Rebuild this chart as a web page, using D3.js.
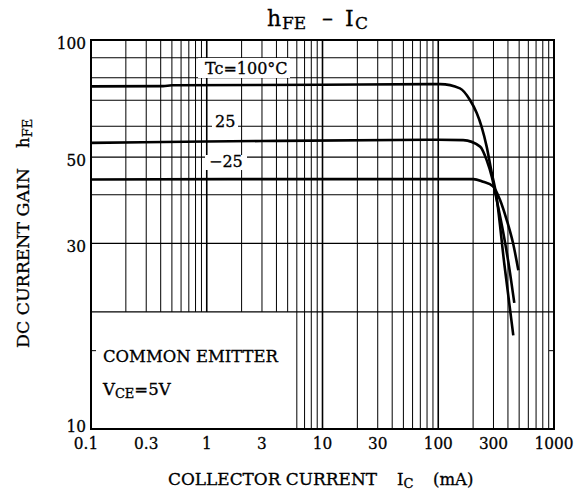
<!DOCTYPE html>
<html><head><meta charset="utf-8">
<script src="https://cdn.jsdelivr.net/npm/d3@7"></script>
<style>
body{margin:0;background:#fff}
svg text{font-family:"DejaVu Serif",serif;fill:#000;stroke:#000;stroke-width:0.3px}
svg text.num{font-family:"DejaVu Serif Condensed","DejaVu Serif",serif;font-stretch:condensed}
</style>
</head><body>
<svg id="c" width="584" height="492"></svg>
<script>
// ---- data ----
const xTickLabels = [0.1, 0.3, 1, 3, 10, 30, 100, 300, 1000];
const yTickLabels = [10, 30, 50, 100];
const seriesNames = ["Tc=100°C", "25", "−25"];

const ic100  = [0.1, 0.42, 0.5, 10, 104, 154, 188, 215, 237, 262, 290, 315, 372, 445];
const hfe100 = [76.0, 76.1, 76.5, 76.7, 77.0, 75.1, 70.1, 64.9, 59.8, 53.2, 45.5, 40.4, 26.6, 17.4];

const ic25  = [0.1, 0.28, 3, 100, 164, 230, 262, 290, 320, 365, 417, 454];
const hfe25 = [54.4, 54.6, 55.0, 55.4, 55.3, 53.2, 49.1, 44.5, 38.8, 31.9, 25.2, 21.1];

const icM25  = [0.1, 10, 100, 201, 244, 297, 342, 390, 442, 492];
const hfeM25 = [43.8, 43.9, 43.9, 43.9, 43.2, 42.1, 38.8, 34.5, 30.1, 25.6];

// ---- layout ----
const L = 91, R = 554, T = 40, B = 429;
const svg = d3.select("#c");
const x = d3.scaleLog().domain([0.1, 1000]).range([L, R]);
const y = d3.scaleLog().domain([10, 100]).range([B, T]);

// grid
const g = svg.append("g");
x.ticks().filter(v => v > 0.1 * 1.001 && v < 999).forEach(v => {
  const major = Math.abs(Math.log10(v) - Math.round(Math.log10(v))) < 1e-6;
  g.append("line")
    .attr("x1", x(v)).attr("x2", x(v))
    .attr("y1", T).attr("y2", v < 5.9 ? y(20) : B)
    .attr("stroke", "#000").attr("stroke-width", major ? 1.6 : 1);
});
y.ticks().filter(v => v > 10.5 && v < 99).forEach(v => {
  g.append("line")
    .attr("x1", L).attr("x2", R)
    .attr("y1", y(v)).attr("y2", y(v))
    .attr("stroke", "#000").attr("stroke-width", 1.1);
});
// small ticks on side edges
[L, R].forEach((xx, i) => {
  g.append("line").attr("x1", xx).attr("x2", xx + (i ? -5 : 5))
    .attr("y1", y(15.9)).attr("y2", y(15.9)).attr("stroke", "#000").attr("stroke-width", 1);
});

// label backgrounds (white boxes masking grid)
const boxes = [[198, 58, 92, 20], [212, 115, 26, 15], [205, 155, 42, 15]];
boxes.forEach(b => svg.append("rect").attr("x", b[0]).attr("y", b[1])
  .attr("width", b[2]).attr("height", b[3]).attr("fill", "#fff"));

// curves
const line = d3.line().x(d => x(d[0])).y(d => y(d[1])).curve(d3.curveMonotoneX);
[[ic100, hfe100], [ic25, hfe25], [icM25, hfeM25]].forEach(([xs, ys]) => {
  svg.append("path").datum(xs.map((v, i) => [v, ys[i]]))
    .attr("d", line).attr("fill", "none").attr("stroke", "#000")
    .attr("stroke-width", 2.6).attr("stroke-linecap", "butt");
});

// frame
svg.append("rect").attr("x", L).attr("y", T).attr("width", R - L).attr("height", B - T)
  .attr("fill", "none").attr("stroke", "#000").attr("stroke-width", 2);

// series labels
const labelPos = [[205, 74], [215, 127], [209, 166.5]];
seriesNames.forEach((s, i) => {
  svg.append("text").attr("x", labelPos[i][0]).attr("y", labelPos[i][1])
    .attr("font-size", 16).text(s);
});

// tick labels
svg.append("g").selectAll("text").data(xTickLabels).join("text").attr("class", "num")
  .attr("x", d => x(d) + (d === 0.1 ? -5 : 0)).attr("y", 449)
  .attr("text-anchor", "middle").attr("font-size", 17).text(d => d);
svg.append("g").selectAll("text").data(yTickLabels).join("text").attr("class", "num")
  .attr("x", 86).attr("y", d => y(d) + (d === 10 ? 3 : 8.5))
  .attr("text-anchor", "end").attr("font-size", 17).text(d => d);

// title
const t = svg.append("text").attr("y", 26).attr("font-size", 22);
t.append("tspan").attr("x", 267).text("h");
t.append("tspan").attr("x", 282).attr("dy", 3).attr("font-size", 17).text("FE");
t.append("tspan").attr("x", 322).attr("dy", -3).text("–");
t.append("tspan").attr("x", 345).text("I");
t.append("tspan").attr("x", 355).attr("dy", 3).attr("font-size", 17).text("C");

// y axis label
const yl = svg.append("g").attr("transform", "translate(29,0) rotate(-90)");
yl.append("text").attr("x", -348).attr("y", 0).attr("font-size", 16.5)
  .attr("textLength", 180).attr("lengthAdjust", "spacingAndGlyphs").text("DC CURRENT GAIN");
const yh = yl.append("text").attr("x", -148).attr("y", 0).attr("font-size", 16.5);
yh.append("tspan").text("h");
yh.append("tspan").attr("font-size", 13).attr("dy", 3).text("FE");

// x axis label
svg.append("text").attr("x", 168).attr("y", 485).attr("font-size", 16.5)
  .attr("textLength", 209).attr("lengthAdjust", "spacingAndGlyphs").text("COLLECTOR CURRENT");
const xl = svg.append("text").attr("x", 397).attr("y", 485).attr("font-size", 16.5);
xl.append("tspan").text("I");
xl.append("tspan").attr("font-size", 13).attr("dy", 3).text("C");
svg.append("text").attr("x", 433).attr("y", 485).attr("font-size", 16.5).text("(mA)");

// annotation
svg.append("text").attr("x", 103).attr("y", 362).attr("font-size", 16.5)
  .attr("textLength", 175).attr("lengthAdjust", "spacingAndGlyphs").text("COMMON EMITTER");
const v = svg.append("text").attr("x", 103).attr("y", 395).attr("font-size", 16.5);
v.append("tspan").text("V");
v.append("tspan").attr("font-size", 13).attr("dy", 3).text("CE");
v.append("tspan").attr("dy", -3).text("=5V");
</script>
</body></html>
